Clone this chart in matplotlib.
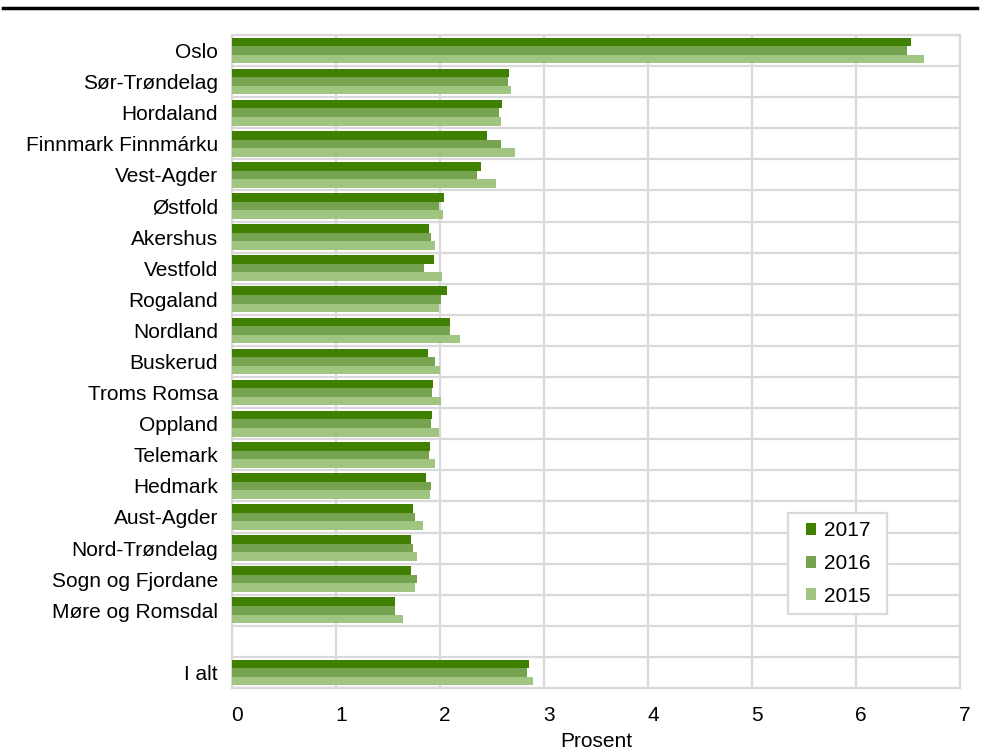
import matplotlib
matplotlib.use("Agg")
import matplotlib.pyplot as plt
from matplotlib.lines import Line2D
from matplotlib.patches import Patch, Rectangle
import matplotlib.transforms as mtransforms
import numpy as np

plt.rcParams['font.family'] = ['Liberation Sans', 'DejaVu Sans']

regions = ["Oslo", "Sør-Trøndelag", "Hordaland", "Finnmark Finnmárku", "Vest-Agder",
           "Østfold", "Akershus", "Vestfold", "Rogaland", "Nordland", "Buskerud",
           "Troms Romsa", "Oppland", "Telemark", "Hedmark", "Aust-Agder",
           "Nord-Trøndelag", "Sogn og Fjordane", "Møre og Romsdal"]
v2017 = [6.53, 2.66, 2.60, 2.45, 2.39, 2.04, 1.89, 1.94, 2.07, 2.10, 1.88,
         1.93, 1.92, 1.90, 1.87, 1.74, 1.72, 1.72, 1.57]
v2016 = [6.49, 2.65, 2.57, 2.59, 2.36, 1.99, 1.91, 1.85, 2.01, 2.10, 1.95,
         1.92, 1.91, 1.89, 1.91, 1.76, 1.74, 1.78, 1.57]
v2015 = [6.65, 2.68, 2.59, 2.72, 2.54, 2.03, 1.95, 2.02, 1.99, 2.19, 2.00,
         2.01, 1.99, 1.95, 1.90, 1.84, 1.78, 1.76, 1.64]
total_label = "I alt"
total_2017 = 2.86
total_2016 = 2.84
total_2015 = 2.89
years = ["2017", "2016", "2015"]
colors = ["#408000", "#76A34F", "#A0C581"]
xticks = [0, 1, 2, 3, 4, 5, 6, 7]
xlabel = "Prosent"

FS = 15

labels = regions + ["", total_label]
n = len(labels)
pos = list(range(len(regions))) + [len(regions) + 1]
series = [v2017 + [total_2017], v2016 + [total_2016], v2015 + [total_2015]]

fig = plt.figure(figsize=(9.93, 7.54), dpi=100)
ax = fig.add_axes([232/993, 1 - 688/754, (960-232)/993, (688-35)/754])

bh = 0.275
offsets = [-bh, 0, bh]
for s, vals in enumerate(series):
    ys = [p + offsets[s] for p in pos]
    ax.barh(ys, vals, height=bh, color=colors[s], label=years[s], zorder=3,
            edgecolor='none')

grid_c = "#d9d9d9"
ax.set_xlim(0, 7)
ax.set_ylim(n - 0.5, -0.5)
ax.set_xticks(xticks)
ax.set_xticklabels([str(t) for t in xticks], fontsize=FS)
ax.set_yticks(range(n))
ax.set_yticklabels(labels, fontsize=FS)
ax.tick_params(length=0)
ax.tick_params(axis='y', pad=10)
ax.tick_params(axis='x', pad=13)
off = mtransforms.ScaledTranslation(5/100, 0, fig.dpi_scale_trans)
for lab in ax.get_xticklabels():
    lab.set_transform(lab.get_transform() + off)

for x in xticks:
    ax.axvline(x, color=grid_c, lw=1.6, zorder=1)
for b in np.arange(-0.5, n, 1.0):
    ax.axhline(b, color=grid_c, lw=1.6, zorder=1)
for sp in ax.spines.values():
    sp.set_color(grid_c)
    sp.set_linewidth(1.6)

ax.set_xlabel(xlabel, fontsize=FS, labelpad=5)

# legend box
box = Rectangle((788/993, 1 - 614/754), 99/993, 101/754, transform=fig.transFigure,
                facecolor='white', edgecolor=grid_c, lw=1.6, zorder=4, clip_on=False)
ax.add_patch(box)
handles = [Patch(facecolor=c, edgecolor='none') for c in colors]
leg = ax.legend(handles, years, loc='center',
                bbox_to_anchor=(838/993, 1 - 563.5/754),
                bbox_transform=fig.transFigure,
                frameon=False, fontsize=FS,
                handlelength=0.5, handleheight=0.5, handletextpad=0.35,
                labelspacing=0.66, borderpad=0, borderaxespad=0)
leg.set_zorder(5)

fig.add_artist(Line2D([3/993, 977/993], [1 - 8/754, 1 - 8/754],
                      color='black', lw=2.5, transform=fig.transFigure))

fig.savefig("out.png", dpi=100)
